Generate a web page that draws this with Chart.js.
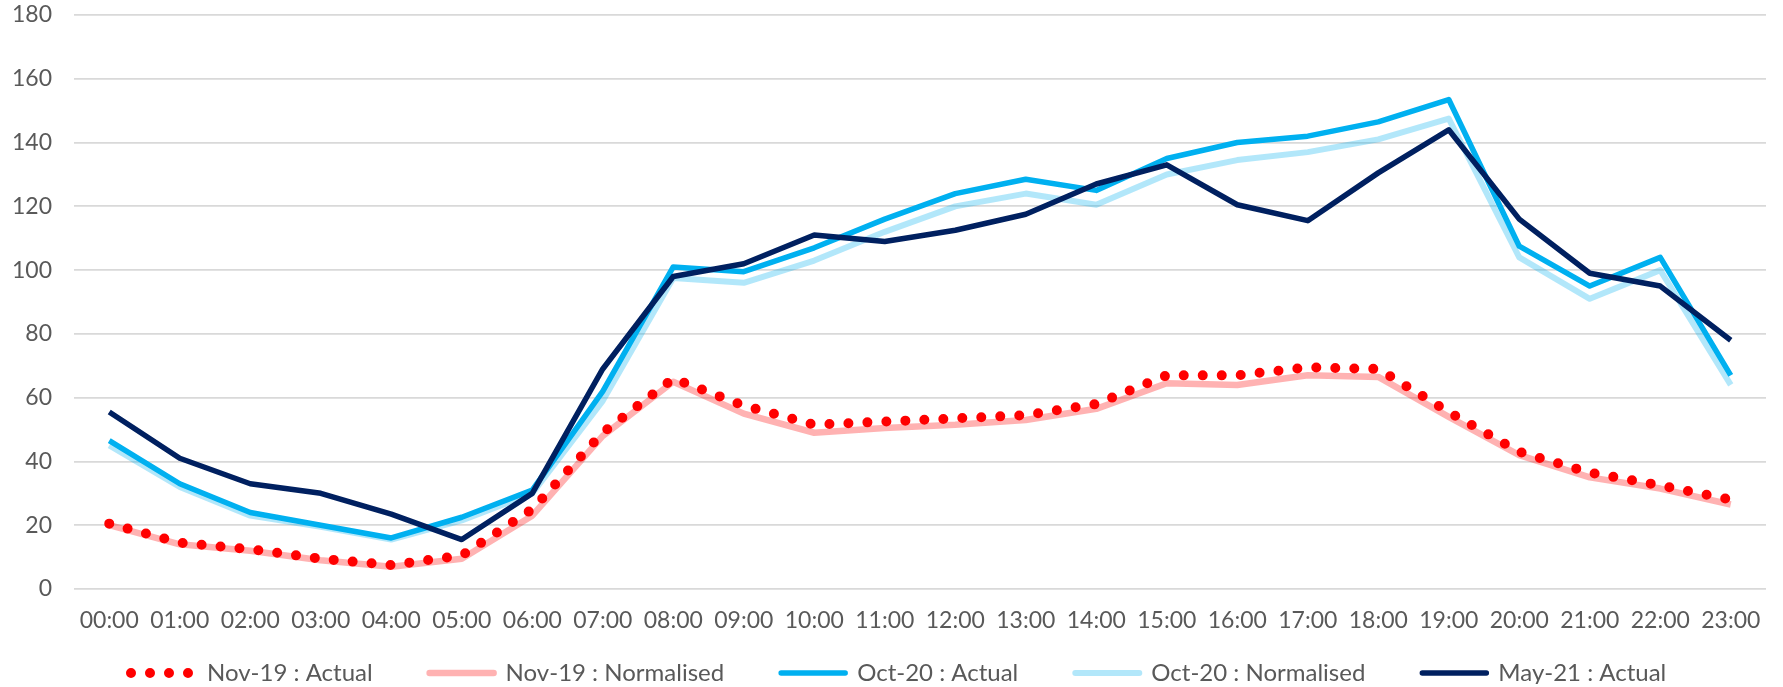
<!DOCTYPE html>
<html>
<head>
<meta charset="utf-8">
<script src="https://cdn.jsdelivr.net/npm/chart.js@4/dist/chart.umd.min.js"></script>
<style>
  html, body { margin: 0; padding: 0; background: #ffffff; }
  #wrap { width: 1783px; height: 687px; }
</style>
</head>
<body>
<div id="wrap"><canvas id="chart"></canvas></div>
<script>
// === DATA ===
const hours = ["00:00", "01:00", "02:00", "03:00", "04:00", "05:00", "06:00", "07:00", "08:00", "09:00", "10:00", "11:00",
    "12:00", "13:00", "14:00", "15:00", "16:00", "17:00", "18:00", "19:00", "20:00", "21:00", "22:00", "23:00"];

const nov19Actual = [20.5, 14.5, 12.5, 9.5, 7.5, 10.5, 25, 49, 66, 57.5, 51.5, 52.5,
    53.5, 54.5, 58, 67, 67, 69.5, 69, 55.5, 43, 36.5, 32.5, 28];
const nov19Normalised = [20, 14, 12, 9, 7, 9.5, 23, 48, 65, 55, 49, 50.5,
    51.5, 53, 56.5, 64.5, 64, 67, 66.5, 54, 42, 35, 31.5, 26.5];
const oct20Actual = [46.5, 33, 24, 20, 16, 22.5, 31, 62, 101, 99.5, 107, 116,
    124, 128.5, 125, 135, 140, 142, 146.5, 153.5, 107.5, 95, 104, 67];
const oct20Normalised = [45, 32, 23, 19.5, 15.5, 21.5, 30, 59, 97.5, 96, 103, 112,
    120, 124, 120.5, 130, 134.5, 137, 141, 147.5, 104, 91, 100, 64];
const may21Actual = [55.5, 41, 33, 30, 23.5, 15.5, 30, 69, 98, 102, 111, 109,
    112.5, 117.5, 127, 133, 120.5, 115.5, 130.5, 144, 116, 99, 95, 78];

const yTicks = { min: 0, max: 180, step: 20 };

const textGrey = "#595959";
const FONT = "Lato, 'Liberation Sans', sans-serif";

// legend uses point style "line", so copy dash / width from the dataset itself
function legendLabels(chart) {
    const items = Chart.defaults.plugins.legend.labels.generateLabels(chart);
    return items.map((item) => {
        const ds = chart.data.datasets[item.datasetIndex];
        item.lineDash = ds.borderDash || [];
        item.lineCap = "round";
        item.lineWidth = ds.borderWidth;
        item.strokeStyle = ds.borderColor;
        return item;
    });
}

const ctx = document.getElementById("chart").getContext("2d");
const chart = new Chart(ctx,
    {
        type: "line",
        data: {
            labels: hours,
            datasets: [
                {
                    label: "Nov-19 : Actual",
                    data: nov19Actual,
                    borderColor: "#FF0000",
                    backgroundColor: "#FF0000",
                    borderWidth: 10,
                    borderDash: [0, 19],
                    borderCapStyle: "round",
                    order: 0,
                },
                {
                    label: "Nov-19 : Normalised",
                    data: nov19Normalised,
                    borderColor: "rgba(255,0,0,0.3)",
                    backgroundColor: "rgba(255,0,0,0.3)",
                    borderWidth: 6.5,
                    order: 4,
                },
                {
                    label: "Oct-20 : Actual",
                    data: oct20Actual,
                    borderColor: "#00B0F0",
                    backgroundColor: "#00B0F0",
                    borderWidth: 5.5,
                    order: 2,
                },
                {
                    label: "Oct-20 : Normalised",
                    data: oct20Normalised,
                    borderColor: "rgba(0,176,240,0.3)",
                    backgroundColor: "rgba(0,176,240,0.3)",
                    borderWidth: 6,
                    order: 3,
                },
                {
                    label: "May-21 : Actual",
                    data: may21Actual,
                    borderColor: "#002060",
                    backgroundColor: "#002060",
                    borderWidth: 5.5,
                    order: 1,
                },
            ],
        },
        options: {
            responsive: true,
            maintainAspectRatio: false,
            animation: false,
            elements: {
                point: { radius: 0, hoverRadius: 0 },
                line: { tension: 0, borderJoinStyle: "round", fill: false },
            },
            layout: {
                padding: { left: 0, right: 17, top: 15, bottom: 3 },
            },
            plugins: {
                tooltip: { enabled: false },
                legend: {
                    position: "bottom",
                    align: "start",
                    fullSize: false,
                    maxHeight: 80,
                    labels: {
                        usePointStyle: true,
                        pointStyle: "line",
                        pointStyleWidth: 64,
                        padding: 57,
                        color: textGrey,
                        font: { family: FONT, size: 24 },
                        generateLabels: legendLabels,
                        sort: (a, b) => a.datasetIndex - b.datasetIndex,
                    },
                },
            },
            scales: {
                x: {
                    offset: true,
                    grid: { display: false, drawTicks: false },
                    border: { display: false },
                    ticks: {
                        color: textGrey,
                        font: { family: FONT, size: 23 },
                        // mirrored labels are not clipped to the thin axis box;
                        // negative padding moves them back below the axis
                        mirror: true,
                        padding: -45,
                        maxRotation: 0,
                        autoSkip: false,
                    },
                    afterFit: (scale) => { scale.height = 15; },
                },
                y: {
                    min: yTicks.min,
                    max: yTicks.max,
                    grid: { color: "#D9D9D9", lineWidth: 1.8, drawTicks: false },
                    border: { display: false },
                    ticks: {
                        stepSize: yTicks.step,
                        color: textGrey,
                        font: { family: FONT, size: 23 },
                        padding: 22,
                    },
                    afterFit: (scale) => {
                        scale.width = 74;
                        scale.paddingTop = 0;
                        scale.paddingBottom = 0;
                    },
                },
            },
        },
    });
</script>
</body>
</html>
